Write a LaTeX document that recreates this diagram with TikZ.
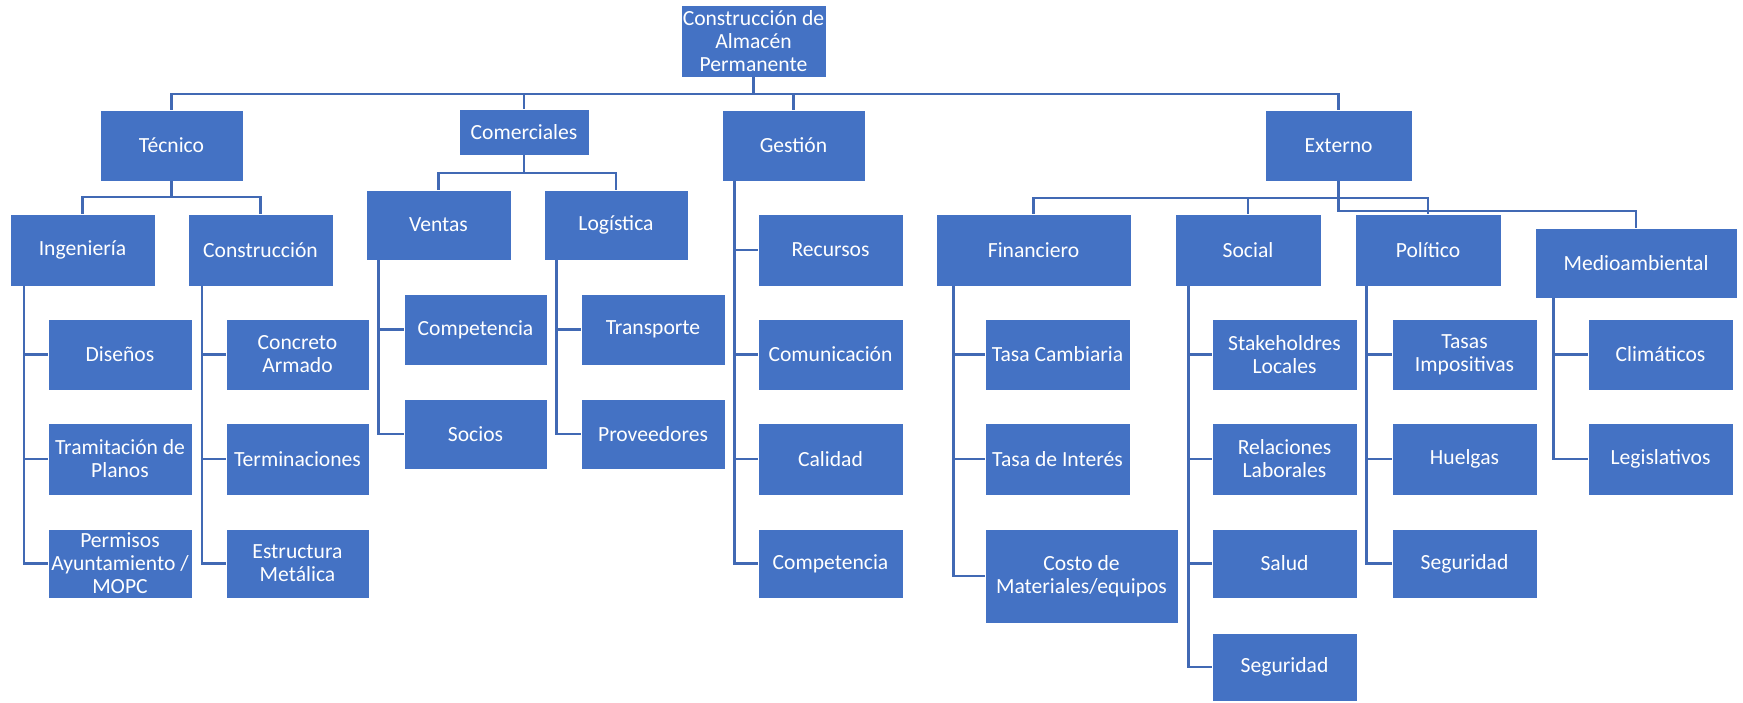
\documentclass[tikz,border=0pt]{standalone}
\usepackage{fontspec}
\setmainfont{Carlito}
\definecolor{boxblue}{HTML}{4472C4}
\definecolor{lineblue}{HTML}{4169B4}
\tikzset{
  bx/.style={rectangle, fill=boxblue, draw=white, line width=0.4pt, text=white,
    align=center, inner sep=0pt, font=\fontsize{10.8pt}{11.5pt}\selectfont},
  ln/.style={draw=lineblue, line width=1.2pt, line join=miter},
}
% box given by its corners (x1,y1)-(x2,y2) in pixel units, y downwards
\newcommand\wbsbox[6]{%
  \node[bx, minimum width={(#4-#2)*0.5pt}, minimum height={(#5-#3)*0.5pt}]
    (#1) at ({(#2+#4)/2},{(#3+#5)/2}) {#6};}
\begin{document}
\begin{tikzpicture}[x=0.5pt,y=-0.5pt]
\useasboundingbox (0,0) rectangle (1743,702);

% level 0
\wbsbox{root}{681}{5}{826}{77}{Construcción de\\Almacén\\Permanente}
% level 1
\wbsbox{tec}{100}{110}{243}{181}{Técnico}
\wbsbox{com}{459}{109}{589}{155}{Comerciales}
\wbsbox{ges}{722}{110}{865}{181}{Gestión}
\wbsbox{ext}{1265}{110}{1412}{181}{Externo}
% level 2
\wbsbox{ing}{10}{214}{155}{286}{Ingeniería}
\wbsbox{cons}{188}{214}{333}{286}{Construcción}
\wbsbox{ven}{366}{190}{511}{260}{Ventas}
\wbsbox{log}{544}{190}{688}{260}{Logística}
\wbsbox{fin}{936}{214}{1131}{286}{Financiero}
\wbsbox{soc}{1175}{214}{1321}{286}{Social}
\wbsbox{pol}{1355}{214}{1501}{286}{Político}
\wbsbox{med}{1535}{228}{1737}{298}{Medioambiental}
% level 3
\wbsbox{dis}{48}{319}{192}{390}{Diseños}
\wbsbox{tra}{48}{423}{192}{495}{Tramitación de\\Planos}
\wbsbox{per}{48}{529}{192}{598}{Permisos\\Ayuntamiento /\\MOPC}
\wbsbox{con}{226}{319}{369}{390}{Concreto\\Armado}
\wbsbox{ter}{226}{423}{369}{495}{Terminaciones}
\wbsbox{est}{226}{529}{369}{598}{Estructura\\Metálica}
\wbsbox{cmp}{404}{294}{547}{365}{Competencia}
\wbsbox{sci}{404}{399}{547}{469}{Socios}
\wbsbox{trn}{581}{294}{725}{365}{Transporte}
\wbsbox{prv}{581}{399}{725}{469}{Proveedores}
\wbsbox{rec}{758}{214}{903}{286}{Recursos}
\wbsbox{cmu}{758}{319}{903}{390}{Comunicación}
\wbsbox{cal}{758}{423}{903}{495}{Calidad}
\wbsbox{cmg}{758}{529}{903}{598}{Competencia}
\wbsbox{tca}{985}{319}{1130}{390}{Tasa Cambiaria}
\wbsbox{tin}{985}{423}{1130}{495}{Tasa de Interés}
\wbsbox{cme}{985}{529}{1178}{623}{Costo de\\Materiales/equipos}
\wbsbox{stk}{1212}{319}{1357}{390}{Stakeholdres\\Locales}
\wbsbox{rel}{1212}{423}{1357}{495}{Relaciones\\Laborales}
\wbsbox{sal}{1212}{529}{1357}{598}{Salud}
\wbsbox{sgs}{1212}{633}{1357}{701}{Seguridad}
\wbsbox{tas}{1392}{319}{1537}{390}{Tasas\\Impositivas}
\wbsbox{hue}{1392}{423}{1537}{495}{Huelgas}
\wbsbox{sgp}{1392}{529}{1537}{598}{Seguridad}
\wbsbox{cli}{1588}{319}{1733}{390}{Climáticos}
\wbsbox{leg}{1588}{423}{1733}{495}{Legislativos}

% heights of the horizontal bars
\coordinate (bar0) at (0,94);
\coordinate (barT) at (0,197);
\coordinate (barC) at (0,173);
\coordinate (barE) at (0,198);
\coordinate (barM) at (0,211);

% elbow connectors from parent to children
\foreach \c in {tec,com,ges,ext}
  \draw[ln] (root.south) -- (root.south |- bar0) -| (\c.north);
\foreach \c in {ing,cons}
  \draw[ln] (tec.south) -- (tec.south |- barT) -| (\c.north);
\foreach \c in {ven,log}
  \draw[ln] (com.south) -- (com.south |- barC) -| (\c.north);
\foreach \c in {fin,soc,pol}
  \draw[ln] (ext.south) -- (ext.south |- barE) -| (\c.north);
\draw[ln] (ext.south) -- (ext.south |- barM) -| (med.north);

% side spines down to the work packages
\foreach \c in {dis,tra,per}
  \draw[ln] ([xshift=7.25pt]ing.south west) |- (\c.west);
\foreach \c in {con,ter,est}
  \draw[ln] ([xshift=7.25pt]cons.south west) |- (\c.west);
\foreach \c in {cmp,sci}
  \draw[ln] ([xshift=6.5pt]ven.south west) |- (\c.west);
\foreach \c in {trn,prv}
  \draw[ln] ([xshift=6.5pt]log.south west) |- (\c.west);
\foreach \c in {rec,cmu,cal,cmg}
  \draw[ln] ([xshift=6.5pt]ges.south west) |- (\c.west);
\foreach \c in {tca,tin,cme}
  \draw[ln] ([xshift=9pt]fin.south west) |- (\c.west);
\foreach \c in {stk,rel,sal,sgs}
  \draw[ln] ([xshift=7pt]soc.south west) |- (\c.west);
\foreach \c in {tas,hue,sgp}
  \draw[ln] ([xshift=6pt]pol.south west) |- (\c.west);
\foreach \c in {cli,leg}
  \draw[ln] ([xshift=9.5pt]med.south west) |- (\c.west);
\end{tikzpicture}
\end{document}
